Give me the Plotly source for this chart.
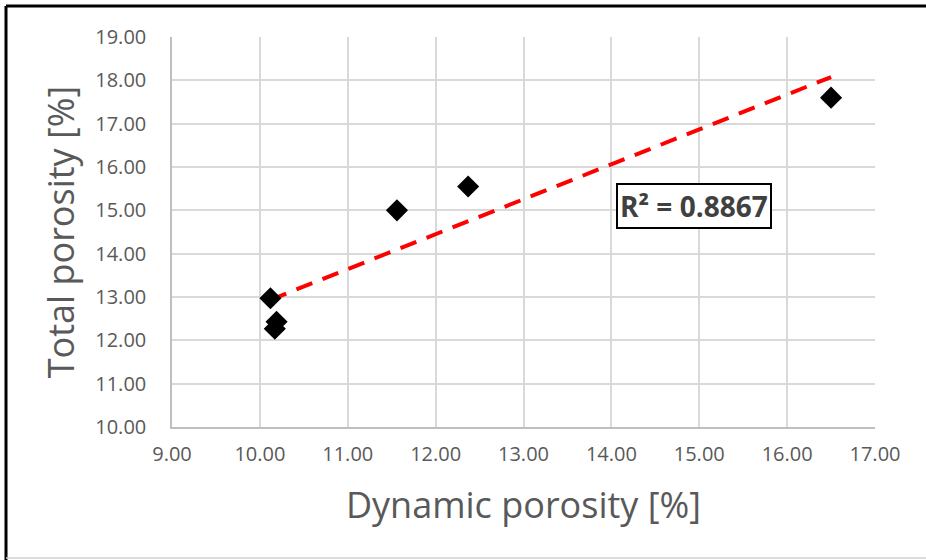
import numpy as np
import plotly.graph_objects as go

# Measured samples: dynamic vs total porosity (%)
dynamic_porosity = [10.12, 10.19, 10.17, 11.56, 12.37, 16.50]
total_porosity = [12.97, 12.43, 12.27, 15.00, 15.55, 17.60]
r_squared_label = "R² = 0.8867"

x_ticks = [9, 10, 11, 12, 13, 14, 15, 16, 17]
y_ticks = [10, 11, 12, 13, 14, 15, 16, 17, 18, 19]

# Linear trendline through the samples
slope, intercept = np.polyfit(dynamic_porosity, total_porosity, 1)
trend_x = np.array([min(dynamic_porosity), max(dynamic_porosity)])
trend_y = slope * trend_x + intercept

FONT = "Open Sans"
GRAY = "#595959"

fig = go.Figure()
fig.add_trace(go.Scatter(
    x=trend_x, y=trend_y, mode="lines",
    line=dict(color="#ff0000", width=4, dash="17px,11px"),
    hoverinfo="skip", showlegend=False,
))
fig.add_trace(go.Scatter(
    x=dynamic_porosity, y=total_porosity, mode="markers",
    marker=dict(symbol="diamond", size=17, color="#000000"),
    showlegend=False,
))

# plot area spans 703 x 390 px inside margins
L, R, T, B = 172, 51, 37, 133
W, H = 926 - L - R, 560 - T - B

def px_x(p):
    return (p - L) / W

def px_y(p):
    return (560 - B - p) / H

fig.update_layout(
    width=926, height=560,
    margin=dict(l=L, r=R, t=T, b=B),
    paper_bgcolor="white", plot_bgcolor="white",
    font=dict(family=FONT, color=GRAY),
    xaxis=dict(
        range=[9, 17], tickvals=x_ticks,
        ticktext=[f"{v:.2f}" for v in x_ticks],
        tickfont=dict(size=20, color=GRAY),
        showgrid=True, gridcolor="#d9d9d9", gridwidth=1.5,
        showline=True, linecolor="#bfbfbf", linewidth=1.5,
        zeroline=False, ticks="", ticklabelstandoff=8,
        title=dict(text="Dynamic porosity [%]", font=dict(size=36, color=GRAY), standoff=27),
    ),
    yaxis=dict(
        range=[10, 19], tickvals=y_ticks,
        ticktext=[f"{v:.2f}" for v in y_ticks],
        tickfont=dict(size=20, color=GRAY),
        showgrid=True, gridcolor="#d9d9d9", gridwidth=1.5,
        showline=True, linecolor="#bfbfbf", linewidth=1.5,
        zeroline=False, ticks="", ticklabelstandoff=20,
        title=dict(text="Total porosity [%]", font=dict(size=36, color=GRAY), standoff=10),
    ),
    annotations=[dict(
        x=14.94, y=15.1, xref="x", yref="y",
        text=f"<b>{r_squared_label}</b>", showarrow=False,
        font=dict(family=FONT, size=28, color="#404040"),
        bgcolor="white", bordercolor="#000000", borderwidth=2, borderpad=2,
    )],
    shapes=[
        dict(type="line", xref="paper", yref="paper",
             x0=px_x(6), x1=px_x(926), y0=px_y(6), y1=px_y(6),
             line=dict(color="#000000", width=3)),
        dict(type="line", xref="paper", yref="paper",
             x0=px_x(6), x1=px_x(6), y0=px_y(6), y1=px_y(560),
             line=dict(color="#000000", width=3)),
        dict(type="line", xref="paper", yref="paper",
             x0=px_x(6), x1=px_x(926), y0=px_y(558), y1=px_y(558),
             line=dict(color="#d0d0d0", width=1.5)),
    ],
)

fig.write_html("out.html")
